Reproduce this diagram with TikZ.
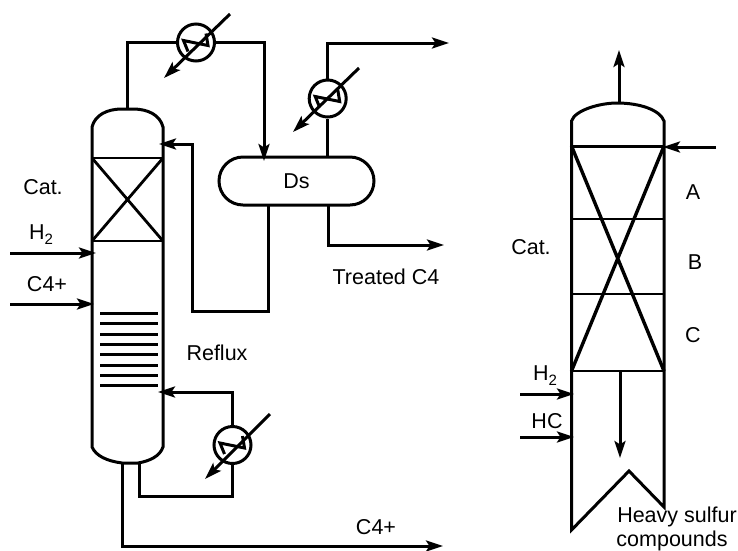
\documentclass[tikz,border=0pt]{standalone}
\usepackage{fontspec}
\setmainfont{Liberation Sans}
\usetikzlibrary{arrows.meta,shapes.misc,calc}
\tikzset{
  ln/.style={line width=3pt,line join=miter,black},
  thinln/.style={line width=2.8pt,black},
  thickln/.style={line width=3.4pt,black},
  ar/.style={ln,-{Stealth[length=17pt,width=11pt,inset=3.5pt]}},
  hx/.style={circle,draw,line width=3pt,minimum size=37pt,inner sep=0pt},
  lab/.style={font=\fontsize{21.5}{24}\selectfont,inner sep=0pt,align=center},
  pt/.style={coordinate}
}
\newcommand{\hxsym}[3]{%
  \draw[ln] ($(#1)+(-8,9)$) -- ($(#1)+(-12.5,-2)$) -- ($(#1)+(12,3)$) -- ($(#1)+(10,-9)$);
  \draw[ar] #2 -- #3;
}
\newcommand{\subtwo}{\raisebox{-5pt}{\fontsize{15}{16}\selectfont 2}}
\begin{document}
\begin{tikzpicture}[x=1pt,y=-1pt]
\useasboundingbox (0,0) rectangle (738,550);
% left column
\draw[ln] (92,247) -- (92,127) .. controls (95,115) and (107,109) .. (122,109) -- (133,109) .. controls (148,109) and (160,115) .. (163,127)
  -- (163,447) .. controls (160,456) and (150,461) .. (138,463) -- (122,463) .. controls (107,461) and (96,456) .. (92,447) -- (92,247);
\draw[thinln] (92,158) -- (163,158) -- (163,241) -- (92,241) -- cycle;
\draw[thinln] (92,158) -- (163,241) (163,158) -- (92,241);
\foreach \y in {313,323.5,334,344,354,365,375,385}
  \draw[ln] (100,\y) -- (158,\y);
% nodes
\node[hx] (hxa) at (196,42.5) {};
\node[hx] (hxb) at (327.7,98.5) {};
\node[hx] (hxc) at (232.5,445) {};
\node[draw,line width=3pt,rounded rectangle,minimum width=155pt,minimum height=48pt,inner sep=0pt,lab] (ds) at (296.5,181) {Ds};
\coordinate (coltop) at (127,109);
\coordinate (ftop) at (127,42.5);
\coordinate (dsin) at (264,161);
\coordinate (dsintop) at (264,42.5);
\coordinate (dstop) at (327.7,157);
\coordinate (offtop) at (327.7,43);
\coordinate (offend) at (449,43);
\coordinate (dsbota) at (328,205);
\coordinate (dsbotb) at (328,245);
\coordinate (dsboc) at (444,245);
\coordinate (rfa) at (268,205);
\coordinate (rfb) at (268,311);
\coordinate (rfc) at (192,311);
\coordinate (rfd) at (192,144);
\coordinate (rfe) at (159,144);
\coordinate (rba) at (232.5,392);
\coordinate (rbb) at (158,392);
\coordinate (rbc) at (232.5,496);
\coordinate (rbd) at (139,496);
\coordinate (rbe) at (139,463);
\coordinate (pra) at (122,463);
\coordinate (prb) at (122,546);
\coordinate (prc) at (443,546);
\draw[ln] (coltop) -- (ftop) -- (hxa.west);
\draw[ar] (hxa.east) -- (dsintop) -- (dsin);
\draw (dstop) edge[ln] (hxb.south);
\draw[ar] (hxb.north) -- (offtop) -- (offend);
\draw[ar] (dsbota) -- (dsbotb) -- (dsboc);
\draw[ar] (rfa) -- (rfb) -- (rfc) -- (rfd) -- (rfe);
\draw[ar] (hxc.north) -- (rba) -- (rbb);
\draw[ln] (hxc.south) -- (rbc) -- (rbd) -- (rbe);
\draw[ar] (pra) -- (prb) -- (prc);
\coordinate (ha) at (96,253); \coordinate (hb) at (10,253);
\coordinate (ca) at (94,304); \coordinate (cb) at (10,304);
\draw[ar] (hb) -- (ha);
\draw[ar] (cb) -- (ca);
\hxsym{hxa}{(230,14)}{(164,78)}
\hxsym{hxb}{(359,68)}{(293,132)}
\hxsym{hxc}{(270,414)}{(205,479)}
% right column
\draw[ln] (571.5,530) -- (571.5,121) .. controls (575,110) and (600,103) .. (617,103) .. controls (640,103) and (660,110) .. (664,121) -- (664,507) -- (629,471) -- cycle;
\draw[thinln] (571,146.5) -- (664,146.5) (571,219) -- (664,219) (571,294) -- (664,294) (571,371) -- (664,371);
\draw[thickln] (571.5,146) -- (664,371) (664,146) -- (571.5,371);
\coordinate (rt) at (619,103); \coordinate (rte) at (619,50);
\coordinate (fa) at (716,147); \coordinate (fb) at (663,147);
\coordinate (ia) at (620,371); \coordinate (ib) at (620,458);
\coordinate (h2a) at (520,394); \coordinate (h2b) at (574,394);
\coordinate (hca) at (520,437); \coordinate (hcb) at (574,437);
\draw[ar] (rt) -- (rte);
\draw[ar] (fa) -- (fb);
\draw[ar] (ia) -- (ib);
\draw[ar] (h2a) -- (h2b);
\draw[ar] (hca) -- (hcb);
% labels
\node[lab] (t1) at (43,187) {Cat.};
\node[lab] (t2) at (41,235) {H\subtwo};
\node[lab] (t3) at (47,284) {C4+};
\node[lab] (t4) at (217,353) {Reflux};
\node[lab] (t5) at (386,277) {Treated C4};
\node[lab] (t6) at (376,527) {C4+};
\node[lab] (t7) at (531,247) {Cat.};
\node[lab] (t8) at (693,192) {A};
\node[lab] (t9) at (695,262) {B};
\node[lab] (t10) at (693,335) {C};
\node[lab] (t11) at (545,376) {H\subtwo};
\node[lab] (t12) at (547,421) {HC};
\node[lab] (t13) at (677,517) {Heavy sulfur};
\node[lab] (t14) at (672,541) {compounds};
\end{tikzpicture}
\end{document}
